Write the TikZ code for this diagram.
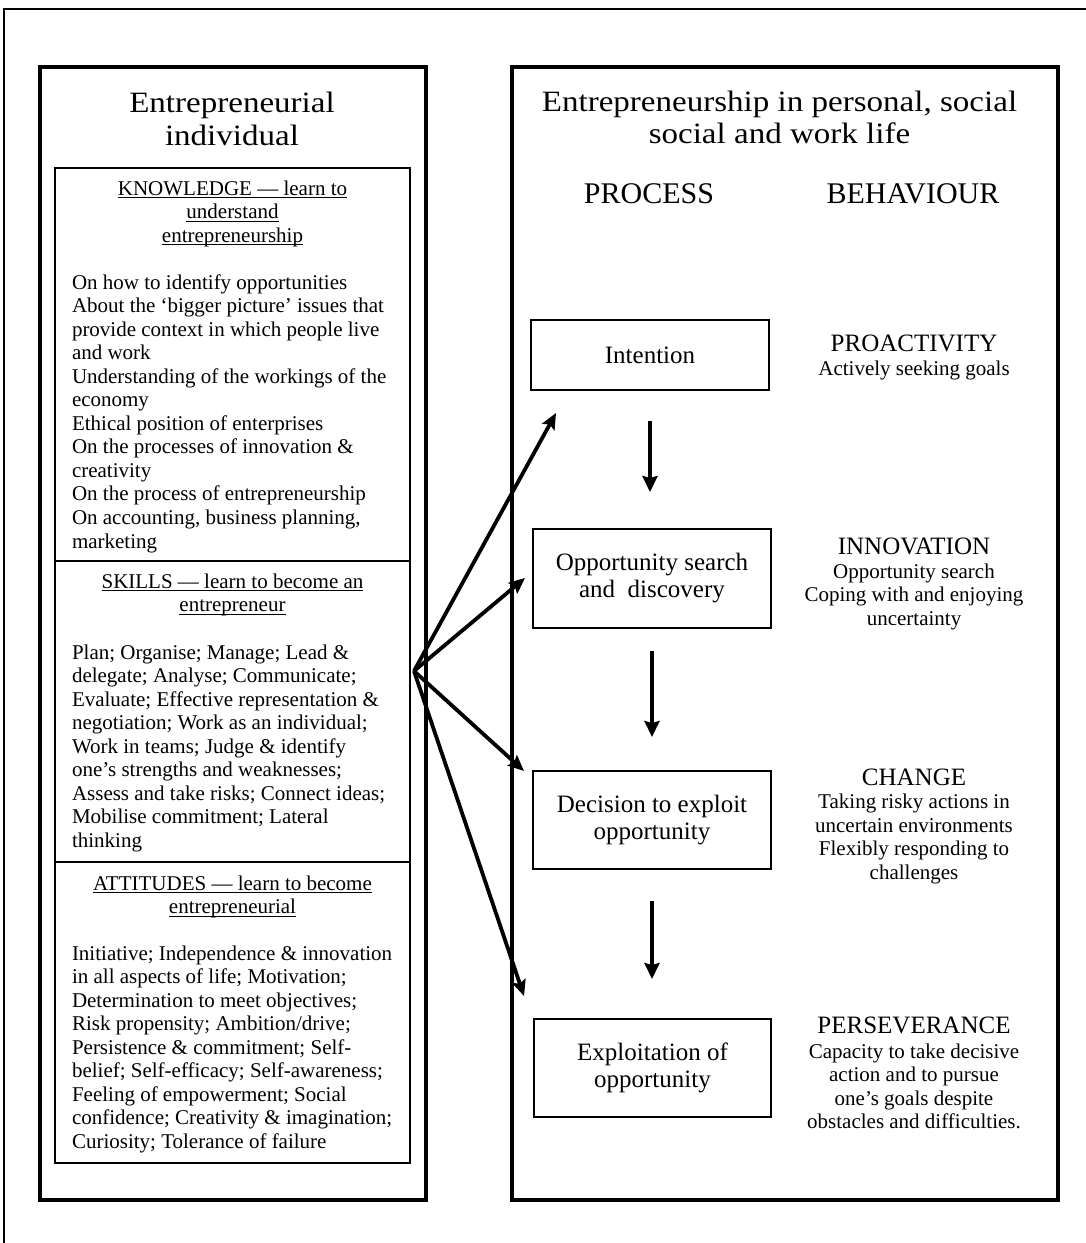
\documentclass[tikz,border=0pt]{standalone}
\usepackage{fontspec}
\setmainfont{Liberation Serif}
\newfontfamily\headfont[FakeStretch=1.12]{Liberation Serif}
\usetikzlibrary{arrows.meta,calc}

\begin{document}
\begin{tikzpicture}[x=1pt,y=-1pt,
  txt/.style={inner sep=0pt,outer sep=0pt},
  body/.style={txt,anchor=base west,font=\fontsize{21}{23.5}\selectfont},
  head/.style={txt,anchor=base,font=\fontsize{21}{23.5}\selectfont},
  uline/.style={line width=0.9pt},
  bigbox/.style={draw,line width=3.8pt},
  listbox/.style={draw,line width=1.4pt},
  pbox/.style={draw,line width=1.9pt,align=center,inner sep=0pt,
               font=\fontsize{25}{27}\selectfont},
  bhead/.style={txt,anchor=base,font=\fontsize{25}{27}\selectfont},
  bline/.style={txt,anchor=base,font=\fontsize{21}{23.5}\selectfont},
  title/.style={txt,anchor=base,font=\headfont\fontsize{29.5}{32}\selectfont},
  colhead/.style={txt,anchor=base,font=\fontsize{30}{32}\selectfont},
  flow/.style={line width=4.2pt,-{Stealth[length=16pt,width=15pt,inset=2pt]}},
  fan/.style={line width=3.8pt,-{Stealth[length=16pt,width=14pt,inset=3pt]}},
]
\useasboundingbox (0,0) rectangle (1086,1243);

% outer frame (open at the right and bottom)
\draw[line width=1.5pt] (4,1250) -- (4,9) -- (1090,9);

% two main panels
\node[bigbox,minimum width=386pt,minimum height=1133pt] (indiv) at (233,633.5) {};
\node[bigbox,minimum width=546pt,minimum height=1133pt] (life) at (785,633.5) {};

% left panel title
\node[title] (lt1) at (232,112) {Entrepreneurial};
\node[title] (lt2) at (232,145) {individual};

% knowledge / skills / attitudes boxes
\node[listbox,minimum width=355pt,minimum height=393pt] (know) at (232.5,364.5) {};
\node[listbox,minimum width=355pt,minimum height=301pt] (skill) at (232.5,711.5) {};
\node[listbox,minimum width=355pt,minimum height=301pt] (attit) at (232.5,1012.5) {};

% underlined headings
\foreach \t/\y [count=\i] in {{KNOWLEDGE — learn to}/195,{understand}/218.5,{entrepreneurship}/242}{
  \node[head] (kh\i) at (232.5,\y) {\t};
  \draw[uline] ($(kh\i.base west)+(0,2.5)$) -- ($(kh\i.base east)+(0,2.5)$);
}
\foreach \t/\y [count=\i] in {{SKILLS — learn to become an}/588,{entrepreneur}/611.5}{
  \node[head] (sh\i) at (232.5,\y) {\t};
  \draw[uline] ($(sh\i.base west)+(0,2.5)$) -- ($(sh\i.base east)+(0,2.5)$);
}
\foreach \t/\y [count=\i] in {{ATTITUDES — learn to become}/890,{entrepreneurial}/913.5}{
  \node[head] (ah\i) at (232.5,\y) {\t};
  \draw[uline] ($(ah\i.base west)+(0,2.5)$) -- ($(ah\i.base east)+(0,2.5)$);
}

% list texts
\foreach \t [count=\i] in {
  {On how to identify opportunities},
  {About the ‘bigger picture’ issues that},
  {provide context in which people live},
  {and work},
  {Understanding of the workings of the},
  {economy},
  {Ethical position of enterprises},
  {On the processes of innovation \&},
  {creativity},
  {On the process of entrepreneurship},
  {On accounting, business planning,},
  {marketing}}{
  \node[body] (kb\i) at (72,289+23.55*\i-23.55) {\t};
}
\foreach \t [count=\i] in {
  {Plan; Organise; Manage; Lead \&},
  {delegate; Analyse; Communicate;},
  {Evaluate; Effective representation \&},
  {negotiation; Work as an individual;},
  {Work in teams; Judge \& identify},
  {one’s strengths and weaknesses;},
  {Assess and take risks; Connect ideas;},
  {Mobilise commitment; Lateral},
  {thinking}}{
  \node[body] (sb\i) at (72,659+23.5*\i-23.5) {\t};
}
\foreach \t [count=\i] in {
  {Initiative; Independence \& innovation},
  {in all aspects of life; Motivation;},
  {Determination to meet objectives;},
  {Risk propensity; Ambition/drive;},
  {Persistence \& commitment; Self-},
  {belief; Self-efficacy; Self-awareness;},
  {Feeling of empowerment; Social},
  {confidence; Creativity \& imagination;},
  {Curiosity; Tolerance of failure}}{
  \node[body] (ab\i) at (72,960+23.5*\i-23.5) {\t};
}

% right panel title and column heads
\node[title] (rt1) at (779.5,111) {Entrepreneurship in personal, social};
\node[title] (rt2) at (779.5,143) {social and work life};
\node[colhead] (proc) at (649,203) {PROCESS};
\node[colhead] (behav) at (913,203) {BEHAVIOUR};

% process steps
\node[pbox,minimum width=238pt,minimum height=70pt] (intent) at (650,355) {Intention};
\node[pbox,minimum width=238pt,minimum height=99pt] (search) at (652,578.5) {Opportunity search\\and\ \ discovery};
\node[pbox,minimum width=238pt,minimum height=98pt] (decide) at (652,820) {Decision to exploit\\opportunity};
\node[pbox,minimum width=237pt,minimum height=98pt] (exploit) at (652.5,1068) {Exploitation of\\opportunity};

\draw[flow,shorten <=30pt,shorten >=36pt] (intent.south) -- (intent.south |- search.north);
\draw[flow,shorten <=22pt,shorten >=33pt] (search.south) -- (search.south |- decide.north);
\draw[flow,shorten <=31pt,shorten >=39pt] (decide.south) -- (decide.south |- exploit.north);

% behaviours
\node[bhead] (b1) at (914,351) {PROACTIVITY};
\node[bline] (b1a) at (914,375) {Actively seeking goals};

\node[bhead] (b2) at (914,554) {INNOVATION};
\foreach \t [count=\i] in {{Opportunity search},{Coping with and enjoying},{uncertainty}}{
  \node[bline] (b2\i) at (914,578+23.5*\i-23.5) {\t};
}
\node[bhead] (b3) at (914,785) {CHANGE};
\foreach \t [count=\i] in {{Taking risky actions in},{uncertain environments},{Flexibly responding to},{challenges}}{
  \node[bline] (b3\i) at (914,808.5+23.5*\i-23.5) {\t};
}
\node[bhead] (b4) at (914,1033) {PERSEVERANCE};
\foreach \t [count=\i] in {{Capacity to take decisive},{action and to pursue},{one’s goals despite},{obstacles and difficulties.}}{
  \node[bline] (b4\i) at (914,1058+23.5*\i-23.5) {\t};
}

% links from the skills to every stage of the process
\coordinate (hub) at (414,671);
\coordinate (t1) at (556,413);
\coordinate (t2) at (525,578);
\coordinate (t3) at (524,771);
\coordinate (t4) at (524,996);
\foreach \k in {t1,t2,t3,t4}{
  \draw[fan] (hub) -- (\k);
}
\end{tikzpicture}
\end{document}
